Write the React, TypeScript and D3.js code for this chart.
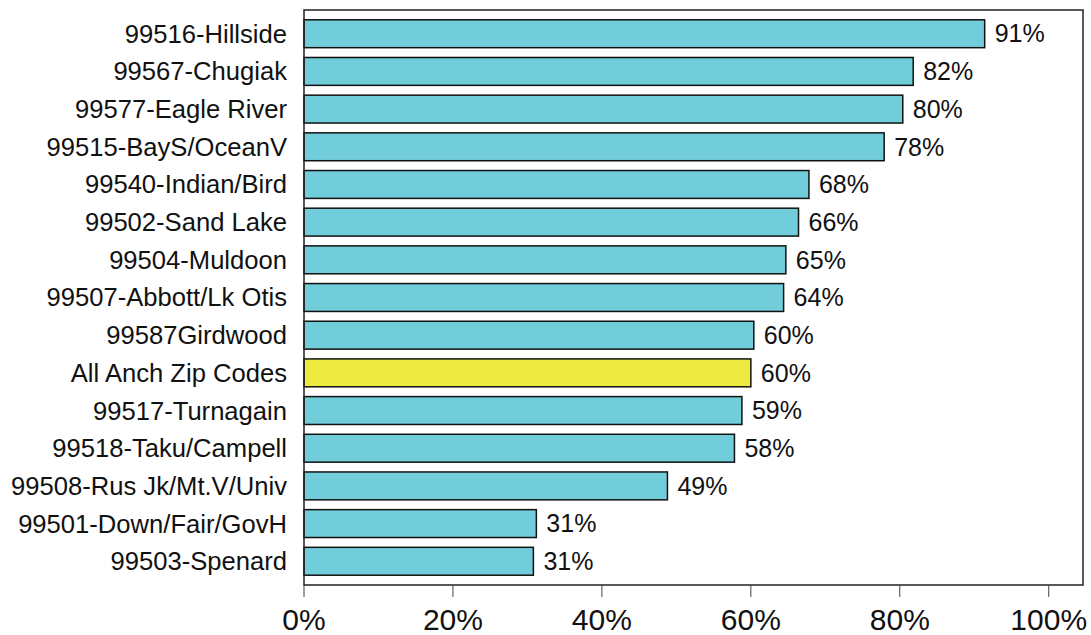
import { useEffect, useRef } from "react";
import * as d3 from "d3";

const categories = [
  "99516-Hillside",
  "99567-Chugiak",
  "99577-Eagle River",
  "99515-BayS/OceanV",
  "99540-Indian/Bird",
  "99502-Sand Lake",
  "99504-Muldoon",
  "99507-Abbott/Lk Otis",
  "99587Girdwood",
  "All Anch Zip Codes",
  "99517-Turnagain",
  "99518-Taku/Campell",
  "99508-Rus Jk/Mt.V/Univ",
  "99501-Down/Fair/GovH",
  "99503-Spenard",
];
const values = [91.4, 81.8, 80.4, 77.9, 67.8, 66.4, 64.7, 64.4, 60.4, 60.0, 58.8, 57.8, 48.8, 31.2, 30.8];
const highlight = "All Anch Zip Codes";
const tickValues = [0, 20, 40, 60, 80, 100];

export default function App() {
  const ref = useRef<SVGSVGElement | null>(null);

  useEffect(() => {
    if (!ref.current) return;

    const width = 1091;
    const height = 635;
    const margin = { top: 10, right: 8, bottom: 50, left: 304 };

    const svg = d3.select(ref.current).attr("viewBox", `0 0 ${width} ${height}`);
    svg.selectAll("*").remove();

    const x = d3
      .scaleLinear()
      .domain([0, 104.6])
      .range([margin.left, width - margin.right]);

    const y = d3
      .scaleBand()
      .domain(categories)
      .range([margin.top, height - margin.bottom])
      .padding(0.26);

    const font = "Liberation Sans, Arial, sans-serif";

    /* ---------------- BARS ---------------- */

    svg.selectAll(".bar")
      .data(values)
      .enter()
      .append("rect")
      .attr("x", x(0))
      .attr("y", (_, i) => y(categories[i])!)
      .attr("width", d => x(d) - x(0))
      .attr("height", y.bandwidth())
      .attr("fill", (_, i) => (categories[i] === highlight ? "#EEEA40" : "#70CDD9"))
      .attr("stroke", "#111")
      .attr("stroke-width", 1.5);

    /* ---------------- VALUE LABELS ---------------- */

    svg.selectAll(".val")
      .data(values)
      .enter()
      .append("text")
      .attr("x", d => x(d) + 10)
      .attr("y", (_, i) => y(categories[i])! + y.bandwidth() / 2)
      .attr("dy", "0.35em")
      .attr("font-family", font)
      .attr("font-size", 25)
      .attr("fill", "#111")
      .text(d => `${Math.round(d)}%`);

    /* ---------------- CATEGORY LABELS ---------------- */

    svg.selectAll(".cat")
      .data(categories)
      .enter()
      .append("text")
      .attr("x", margin.left - 17)
      .attr("y", d => y(d)! + y.bandwidth() / 2)
      .attr("dy", "0.35em")
      .attr("text-anchor", "end")
      .attr("font-family", font)
      .attr("font-size", 25.6)
      .attr("fill", "#111")
      .text(d => d);

    /* ---------------- FRAME + AXIS ---------------- */

    svg.append("rect")
      .attr("x", margin.left)
      .attr("y", margin.top)
      .attr("width", width - margin.right - margin.left)
      .attr("height", height - margin.bottom - margin.top)
      .attr("fill", "none")
      .attr("stroke", "#222")
      .attr("stroke-width", 1.5);

    const base = height - margin.bottom;

    svg.selectAll(".tick")
      .data(tickValues)
      .enter()
      .append("line")
      .attr("x1", d => x(d))
      .attr("x2", d => x(d))
      .attr("y1", base)
      .attr("y2", base + 12)
      .attr("stroke", "#444")
      .attr("stroke-width", 1);

    svg.selectAll(".tlabel")
      .data(tickValues)
      .enter()
      .append("text")
      .attr("x", d => x(d))
      .attr("y", 630)
      .attr("text-anchor", "middle")
      .attr("font-family", font)
      .attr("font-size", 30)
      .attr("fill", "#111")
      .text(d => `${d}%`);
  }, []);

  return (
    <div style={{ position: "fixed", left: 0, top: 0, width: 1091, height: 635, background: "#fff" }}>
      <svg ref={ref} width={1091} height={635} style={{ display: "block" }} />
    </div>
  );
}
